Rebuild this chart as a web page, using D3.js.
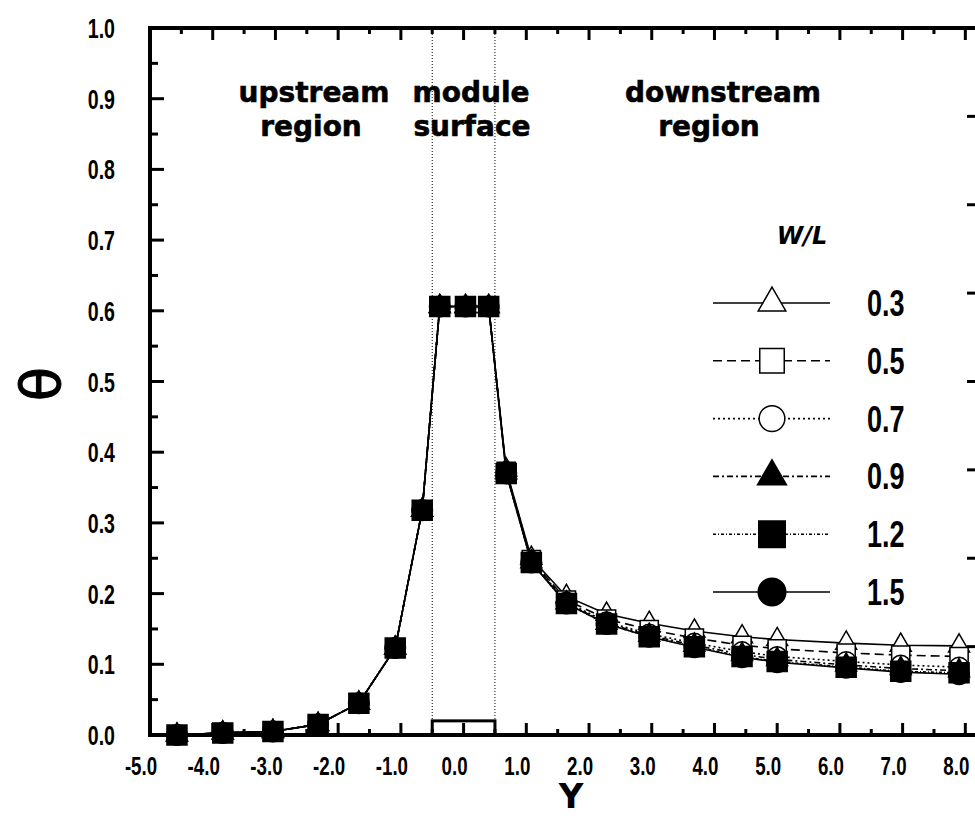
<!DOCTYPE html>
<html>
<head>
<meta charset="utf-8">
<script src="https://cdn.jsdelivr.net/npm/d3@7"></script>
<style>
  body { margin: 0; background: #fff; }
  svg { display: block; }
  .num { font-family: "Liberation Sans", Arial, sans-serif; font-weight: bold; }
  .ann { font-family: "DejaVu Sans", sans-serif; font-weight: bold; }
</style>
</head>
<body>
<svg id="chart"></svg>
<script>
// W/L cases
var ratios = ["0.3", "0.5", "0.7", "0.9", "1.2", "1.5"];

// Y positions of the nodes (upstream, module surface, downstream)
var yUp = [-4.57, -3.84, -3.04, -2.32, -1.67, -1.09, -0.66];
var ySurf = [-0.38, 0.03, 0.4];
var yDown = [0.68, 1.08, 1.64, 2.28, 2.96, 3.68, 4.44, 5.0, 6.1, 6.97, 7.9];

// theta upstream and on the surface is the same for all W/L
var thUp = [0.0, 0.003, 0.005, 0.015, 0.045, 0.123, 0.318];
var thSurf = [0.606, 0.606, 0.606];

// theta downstream, one list per W/L
var th03 = [0.375, 0.250, 0.196, 0.171, 0.158, 0.147, 0.139, 0.135, 0.130, 0.127, 0.126];
var th05 = [0.373, 0.248, 0.191, 0.164, 0.149, 0.137, 0.127, 0.122, 0.116, 0.113, 0.111];
var th07 = [0.372, 0.246, 0.188, 0.160, 0.143, 0.130, 0.118, 0.111, 0.104, 0.099, 0.096];
var th09 = [0.371, 0.245, 0.187, 0.158, 0.141, 0.127, 0.114, 0.107, 0.099, 0.094, 0.091];
var th12 = [0.370, 0.244, 0.186, 0.157, 0.139, 0.125, 0.111, 0.104, 0.096, 0.090, 0.088];
var th15 = [0.370, 0.244, 0.186, 0.157, 0.139, 0.124, 0.110, 0.103, 0.095, 0.089, 0.086];

var xTicks = [-5, -4, -3, -2, -1, 0, 1, 2, 3, 4, 5, 6, 7, 8];
var yTicks = [0, 0.1, 0.2, 0.3, 0.4, 0.5, 0.6, 0.7, 0.8, 0.9, 1.0];

var W = 975, H = 817;
var svg = d3.select("#chart").attr("width", W).attr("height", H);

var x = d3.scaleLinear().domain([-5, 8.17]).range([150, 976]);
var y = d3.scaleLinear().domain([0, 1]).range([735, 28]);

var downs = [th03, th05, th07, th09, th12, th15];
var styles = [
  {sym: d3.symbolTriangle, fill: "#fff", dash: null, size: 190, lsize: 330},
  {sym: d3.symbolSquare, fill: "#fff", dash: "9,5", size: 330, lsize: 600},
  {sym: d3.symbolCircle, fill: "#fff", dash: "2,3", size: 300, lsize: 520},
  {sym: d3.symbolTriangle, fill: "#000", dash: "6,3,2,3", size: 190, lsize: 360},
  {sym: d3.symbolSquare, fill: "#000", dash: "3,2,1,2", size: 400, lsize: 700},
  {sym: d3.symbolCircle, fill: "#000", dash: null, size: 330, lsize: 600}
];

var series = ratios.map(function (r, i) {
  var pts = [];
  yUp.forEach(function (v, j) { pts.push({x: v, t: thUp[j]}); });
  ySurf.forEach(function (v, j) { pts.push({x: v, t: thSurf[j]}); });
  yDown.forEach(function (v, j) { pts.push({x: v, t: downs[i][j]}); });
  return {name: r, pts: pts, st: styles[i]};
});

// module surface borders
svg.selectAll(".surf")
  .data([-0.5, 0.5])
  .join("line")
  .attr("class", "surf")
  .attr("x1", d => x(d)).attr("x2", d => x(d))
  .attr("y1", y(1)).attr("y2", y(0))
  .attr("stroke", "#000").attr("stroke-width", 1).attr("stroke-dasharray", "1,2");

// module block on the bottom
svg.append("rect")
  .attr("x", x(-0.5)).attr("y", y(0.02))
  .attr("width", x(0.5) - x(-0.5)).attr("height", y(0) - y(0.02))
  .attr("fill", "#fff").attr("stroke", "#000").attr("stroke-width", 3);

// lines
var line = d3.line().x(d => x(d.x)).y(d => y(d.t));
svg.selectAll(".ser")
  .data(series)
  .join("path")
  .attr("class", "ser")
  .attr("d", d => line(d.pts))
  .attr("fill", "none")
  .attr("stroke", "#000")
  .attr("stroke-width", 1.6)
  .attr("stroke-dasharray", d => d.st.dash);

// markers, filled squares drawn last so they sit on top
var order = [0, 1, 2, 3, 5, 4];
order.forEach(function (i) {
  var s = series[i];
  svg.append("g").selectAll("path")
    .data(s.pts)
    .join("path")
    .attr("transform", d => `translate(${x(d.x)},${y(d.t)})`)
    .attr("d", d3.symbol().type(s.st.sym).size(s.st.size))
    .attr("fill", s.st.fill)
    .attr("stroke", "#000")
    .attr("stroke-width", 1.5);
});

// axes frame
var frame = svg.append("g");
frame.append("line").attr("x1", 150).attr("x2", 976).attr("y1", y(0)).attr("y2", y(0))
  .attr("stroke", "#000").attr("stroke-width", 4);
frame.append("line").attr("x1", 150).attr("x2", 976).attr("y1", y(1)).attr("y2", y(1))
  .attr("stroke", "#000").attr("stroke-width", 4);
frame.append("line").attr("x1", 150).attr("x2", 150).attr("y1", y(1) - 2).attr("y2", y(0) + 2)
  .attr("stroke", "#000").attr("stroke-width", 4);

// bottom / top ticks
var xMinor = d3.range(-4.5, 8.1, 1);
var tickSets = [
  {vals: xTicks, len: 12}, {vals: xMinor, len: 6}
];
tickSets.forEach(function (ts) {
  svg.append("g").selectAll("line").data(ts.vals).join("line")
    .attr("x1", d => x(d)).attr("x2", d => x(d))
    .attr("y1", y(0)).attr("y2", y(0) - ts.len)
    .attr("stroke", "#000").attr("stroke-width", 3);
  svg.append("g").selectAll("line").data(ts.vals).join("line")
    .attr("x1", d => x(d)).attr("x2", d => x(d))
    .attr("y1", y(1)).attr("y2", y(1) + ts.len)
    .attr("stroke", "#000").attr("stroke-width", 3);
});

// left ticks
var yMinor = d3.range(0.05, 1, 0.1);
svg.append("g").selectAll("line").data(yTicks).join("line")
  .attr("x1", 150).attr("x2", 164).attr("y1", d => y(d)).attr("y2", d => y(d))
  .attr("stroke", "#000").attr("stroke-width", 3);
svg.append("g").selectAll("line").data(yMinor).join("line")
  .attr("x1", 150).attr("x2", 158).attr("y1", d => y(d)).attr("y2", d => y(d))
  .attr("stroke", "#000").attr("stroke-width", 3);

// right side ticks (axis itself is outside the picture)
svg.append("g").selectAll("line").data(d3.range(0.125, 1, 0.125)).join("line")
  .attr("x1", 967).attr("x2", 976).attr("y1", d => y(d)).attr("y2", d => y(d))
  .attr("stroke", "#000").attr("stroke-width", 3);

// tick labels, squeezed horizontally like the condensed original font
svg.append("g").selectAll("text").data(xTicks).join("text")
  .attr("class", "num")
  .attr("transform", d => `translate(${x(d) - 9},775) scale(0.72,1)`)
  .attr("text-anchor", "middle").attr("font-size", 26)
  .text(d => d.toFixed(1));

svg.append("g").selectAll("text").data(yTicks).join("text")
  .attr("class", "num")
  .attr("transform", d => `translate(115,${y(d)}) scale(0.7,1)`)
  .attr("dy", "0.36em")
  .attr("text-anchor", "end").attr("font-size", 28)
  .text(d => d.toFixed(1));

// axis titles
svg.append("text")
  .attr("class", "ann")
  .attr("x", 571).attr("y", 808)
  .attr("text-anchor", "middle").attr("font-size", 34)
  .text("Y");

svg.append("text")
  .attr("transform", "translate(40,384) rotate(-90)")
  .attr("text-anchor", "middle").attr("dy", "0.35em")
  .attr("font-family", "DejaVu Sans, sans-serif")
  .attr("font-size", 56)
  .attr("stroke", "#000").attr("stroke-width", 1)
  .text("θ");

// region annotations
var notes = [
  {t: "upstream", x: 314, y: 102}, {t: "region", x: 311, y: 136},
  {t: "module", x: 471, y: 102}, {t: "surface", x: 472, y: 136},
  {t: "downstream", x: 723, y: 102}, {t: "region", x: 709, y: 136}
];
svg.append("g").selectAll("text").data(notes).join("text")
  .attr("class", "ann")
  .attr("x", d => d.x).attr("y", d => d.y)
  .attr("text-anchor", "middle").attr("font-size", 28)
  .attr("stroke", "#000").attr("stroke-width", 0.6)
  .text(d => d.t);

// legend
var lg = svg.append("g");
lg.append("text")
  .attr("class", "ann")
  .attr("x", 802).attr("y", 244)
  .attr("text-anchor", "middle").attr("font-size", 24).attr("font-style", "italic")
  .text("W/L");

var rows = lg.selectAll(".row").data(series).join("g")
  .attr("class", "row")
  .attr("transform", (d, i) => `translate(0,${303 + i * 57.8})`);
rows.append("line")
  .attr("x1", 713).attr("x2", 830)
  .attr("stroke", "#000").attr("stroke-width", 1.6)
  .attr("stroke-dasharray", d => d.st.dash);
rows.append("path")
  .attr("transform", "translate(772,0)")
  .attr("d", d => d3.symbol().type(d.st.sym).size(d.st.lsize)())
  .attr("fill", d => d.st.fill)
  .attr("stroke", "#000").attr("stroke-width", 1.5);
rows.append("text")
  .attr("class", "num")
  .attr("transform", "translate(867,0) scale(0.75,1)")
  .attr("dy", "0.36em")
  .attr("font-size", 36)
  .text(d => d.name);
</script>
</body>
</html>
